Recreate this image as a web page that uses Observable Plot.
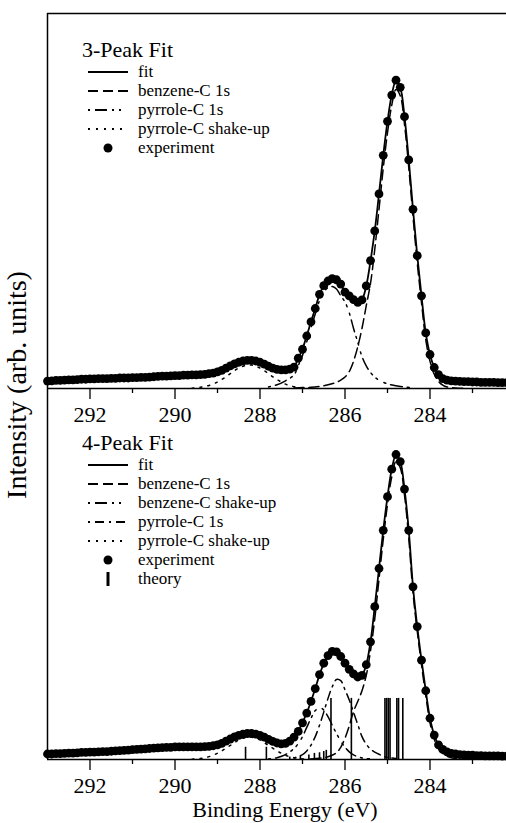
<!DOCTYPE html>
<html><head><meta charset="utf-8">
<script src="https://cdn.jsdelivr.net/npm/d3@7"></script>
<script src="https://cdn.jsdelivr.net/npm/@observablehq/plot@0.6"></script>
<style>
html,body{margin:0;padding:0;background:#fff;}
#wrap{position:relative;width:506px;height:823px;overflow:hidden;font-family:"Liberation Serif","Times New Roman",serif;}
#wrap > svg{position:absolute;left:0;}
</style></head><body><div id="wrap"></div>
<script>
// ---------- data ----------
const energy = [
293.0,292.9,292.8,292.7,292.6,292.5,292.4,292.3,292.2,292.1,
292.0,291.9,291.8,291.7,291.6,291.5,291.4,291.3,291.2,291.1,
291.0,290.9,290.8,290.7,290.6,290.5,290.4,290.3,290.2,290.1,
290.0,289.9,289.8,289.7,289.6,289.5,289.4,289.3,289.2,289.1,
289.0,288.9,288.8,288.7,288.6,288.5,288.4,288.3,288.2,288.1,
288.0,287.9,287.8,287.7,287.6,287.5,287.4,287.3,287.2,287.1,
287.0,286.9,286.8,286.7,286.6,286.5,286.4,286.3,286.2,286.1,
286.0,285.9,285.8,285.7,285.6,285.5,285.4,285.3,285.2,285.1,
285.0,284.9,284.8,284.7,284.6,284.5,284.4,284.3,284.2,284.1,
284.0,283.9,283.8,283.7,283.6,283.5,283.4,283.3,283.2,283.1,
283.0,282.9,282.8,282.7,282.6,282.5,282.4,282.3,282.2];

// 3-peak fit panel
const exp3 = [
0.024,0.025,0.026,0.026,0.027,0.028,0.028,0.029,0.030,0.030,
0.031,0.031,0.032,0.032,0.032,0.033,0.033,0.034,0.034,0.034,
0.035,0.035,0.036,0.036,0.037,0.038,0.039,0.040,0.040,0.041,
0.042,0.042,0.043,0.043,0.044,0.044,0.045,0.046,0.048,0.050,
0.054,0.059,0.066,0.073,0.080,0.085,0.089,0.091,0.091,0.089,
0.085,0.079,0.072,0.066,0.062,0.060,0.060,0.063,0.069,0.098,
0.127,0.170,0.216,0.259,0.305,0.333,0.348,0.356,0.352,0.338,
0.312,0.300,0.288,0.279,0.287,0.332,0.414,0.510,0.630,0.755,
0.865,0.950,0.998,0.975,0.880,0.740,0.580,0.430,0.300,0.180,
0.110,0.068,0.045,0.032,0.027,0.025,0.024,0.023,0.022,0.022,
0.021,0.021,0.020,0.020,0.020,0.020,0.019,0.019,0.019];
const fit3 = [
0.024,0.025,0.026,0.026,0.027,0.028,0.028,0.029,0.030,0.030,
0.031,0.031,0.032,0.032,0.032,0.033,0.033,0.034,0.034,0.034,
0.035,0.035,0.036,0.036,0.037,0.038,0.039,0.040,0.040,0.041,
0.042,0.042,0.043,0.043,0.044,0.044,0.045,0.046,0.048,0.050,
0.054,0.059,0.066,0.073,0.080,0.085,0.089,0.091,0.091,0.089,
0.085,0.079,0.072,0.066,0.062,0.060,0.060,0.063,0.070,0.097,
0.128,0.171,0.216,0.259,0.304,0.333,0.349,0.356,0.352,0.337,
0.312,0.299,0.288,0.280,0.288,0.332,0.413,0.510,0.630,0.755,
0.865,0.950,0.997,0.975,0.880,0.740,0.580,0.430,0.300,0.180,
0.110,0.068,0.045,0.032,0.027,0.025,0.024,0.023,0.022,0.022,
0.021,0.021,0.020,0.020,0.020,0.020,0.019,0.019,0.019];
const benz3E = [287.2,287.0,286.8,286.6,286.4,286.2,286.1,286.0,285.9,285.8,285.7,285.6,285.5,285.4,285.3,285.2,285.1,285.0,284.9,284.8,284.7,284.6,284.5,284.4,284.3,284.2,284.1,284.0,283.9,283.8,283.7,283.6,283.4,283.2];
const benz3 = [0.002,0.003,0.004,0.007,0.012,0.020,0.027,0.037,0.055,0.088,0.135,0.195,0.268,0.340,0.450,0.580,0.713,0.828,0.917,0.968,0.948,0.855,0.716,0.557,0.407,0.278,0.158,0.088,0.046,0.023,0.011,0.005,0.002,0.001];
const pyr3E = [287.8,287.6,287.4,287.2,287.1,287.0,286.9,286.8,286.7,286.6,286.5,286.4,286.3,286.2,286.1,286.0,285.9,285.8,285.7,285.6,285.5,285.4,285.3,285.2,285.0,284.8,284.6,284.4];
const pyr3 = [0.005,0.012,0.025,0.044,0.074,0.107,0.151,0.197,0.241,0.285,0.312,0.326,0.330,0.322,0.300,0.280,0.245,0.195,0.150,0.103,0.073,0.052,0.037,0.027,0.015,0.009,0.005,0.002];
const shk3E = [289.6,289.4,289.2,289.0,288.9,288.8,288.7,288.6,288.5,288.4,288.3,288.2,288.1,288.0,287.9,287.8,287.7,287.6,287.5,287.4,287.2,287.0,286.8];
const shk3 = [0.001,0.004,0.010,0.021,0.029,0.038,0.048,0.058,0.066,0.072,0.076,0.076,0.072,0.066,0.058,0.048,0.038,0.029,0.021,0.014,0.006,0.002,0.0007];

// 4-peak fit panel
const exp4 = [
0.018,0.018,0.019,0.019,0.020,0.021,0.021,0.022,0.023,0.023,
0.024,0.024,0.025,0.026,0.026,0.027,0.028,0.029,0.030,0.031,
0.032,0.033,0.034,0.035,0.036,0.037,0.038,0.039,0.040,0.040,
0.041,0.041,0.041,0.041,0.041,0.041,0.041,0.042,0.043,0.045,
0.048,0.053,0.060,0.067,0.074,0.079,0.083,0.085,0.085,0.083,
0.079,0.073,0.066,0.059,0.054,0.051,0.053,0.060,0.073,0.092,
0.120,0.152,0.190,0.232,0.278,0.315,0.340,0.354,0.352,0.337,
0.315,0.295,0.280,0.270,0.275,0.310,0.385,0.500,0.625,0.750,
0.860,0.950,0.998,0.975,0.885,0.750,0.565,0.435,0.325,0.225,
0.135,0.080,0.048,0.033,0.025,0.020,0.018,0.016,0.015,0.014,
0.014,0.013,0.013,0.012,0.012,0.012,0.012,0.011,0.011];
const fit4 = [
0.018,0.018,0.019,0.019,0.020,0.021,0.021,0.022,0.023,0.023,
0.024,0.024,0.025,0.026,0.026,0.027,0.028,0.029,0.030,0.031,
0.032,0.033,0.034,0.035,0.036,0.037,0.038,0.039,0.040,0.040,
0.041,0.041,0.041,0.041,0.041,0.041,0.041,0.042,0.043,0.045,
0.048,0.053,0.060,0.067,0.074,0.079,0.083,0.085,0.085,0.083,
0.079,0.073,0.066,0.059,0.054,0.052,0.053,0.060,0.073,0.093,
0.121,0.153,0.190,0.232,0.277,0.314,0.340,0.353,0.351,0.337,
0.315,0.295,0.280,0.271,0.276,0.310,0.385,0.500,0.625,0.750,
0.860,0.950,0.997,0.975,0.885,0.750,0.565,0.435,0.325,0.225,
0.135,0.080,0.048,0.033,0.025,0.020,0.018,0.016,0.015,0.014,
0.014,0.013,0.013,0.012,0.012,0.012,0.012,0.011,0.011];
const benz4E = [286.8,286.6,286.4,286.2,286.1,286.0,285.9,285.8,285.7,285.6,285.5,285.4,285.3,285.2,285.1,285.0,284.9,284.8,284.7,284.6,284.5,284.4,284.3,284.2,284.1,284.0,283.9,283.8,283.7,283.6,283.5,283.4,283.2];
const benz4 = [0.002,0.004,0.009,0.022,0.040,0.070,0.110,0.157,0.190,0.225,0.275,0.355,0.460,0.590,0.720,0.835,0.925,0.975,0.955,0.865,0.725,0.545,0.420,0.310,0.210,0.120,0.066,0.035,0.020,0.011,0.006,0.003,0.001];
const shkB4E = [287.8,287.6,287.4,287.2,287.1,287.0,286.9,286.8,286.7,286.6,286.5,286.4,286.3,286.2,286.1,286.0,285.9,285.8,285.6,285.4];
const shkB4 = [0.002,0.006,0.016,0.036,0.052,0.075,0.105,0.135,0.160,0.170,0.162,0.140,0.112,0.085,0.060,0.040,0.025,0.015,0.005,0.002];
const pyr4E = [287.2,287.0,286.9,286.8,286.7,286.6,286.5,286.4,286.3,286.2,286.1,286.0,285.9,285.8,285.7,285.6,285.5,285.4,285.3,285.2,285.0,284.8];
const pyr4 = [0.005,0.016,0.028,0.047,0.075,0.112,0.155,0.200,0.238,0.262,0.258,0.228,0.195,0.155,0.115,0.075,0.050,0.034,0.024,0.017,0.007,0.003];
const shkP4E = [289.6,289.4,289.2,289.0,288.9,288.8,288.7,288.6,288.5,288.4,288.3,288.2,288.1,288.0,287.9,287.8,287.7,287.6,287.5,287.4,287.2,287.0,286.8];
const shkP4 = [0.001,0.0037,0.0094,0.0205,0.028,0.037,0.046,0.055,0.064,0.0695,0.073,0.073,0.0695,0.064,0.055,0.046,0.037,0.028,0.0205,0.0136,0.006,0.002,0.0006];
const theoryE = [288.34,287.85,287.30,287.05,286.85,286.72,286.60,286.50,286.44,286.33,285.85,285.06,285.02,284.98,284.94,284.78,284.74,284.64];
const theoryH = [0.040,0.040,0.008,0.012,0.015,0.020,0.022,0.026,0.030,0.200,0.200,0.200,0.200,0.200,0.200,0.200,0.200,0.200];

const majorTicks = [292, 290, 288, 286, 284];
const minorTicks = [291, 289, 287, 285, 283];
const xDomain = [293, 282.2];
const yMax = 1.214;

const legend3 = ["fit", "benzene-C 1s", "pyrrole-C 1s", "pyrrole-C shake-up", "experiment"];
const legend4 = ["fit", "benzene-C 1s", "benzene-C shake-up", "pyrrole-C 1s", "pyrrole-C shake-up", "experiment", "theory"];

// ---------- styles ----------
const DASH = "10,5", DASHDOTDOT = "2,5,12,5,2,5,2,7", DASHDOT = "2,5,9,5", DOT = "2,6";
const rows = (E, V) => E.map((e, i) => ({e, v: V[i]}));
const lineOpts = (dash) => ({x: "e", y: "v", stroke: "black", strokeWidth: 1.5, strokeDasharray: dash, curve: "catmull-rom"});

function axisMarks() {
  return [
    Plot.ruleX([xDomain[0]], {stroke: "black", strokeWidth: 1.5}),
    Plot.ruleY([0], {stroke: "black", strokeWidth: 1.5}),
    Plot.axisX({ticks: majorTicks, tickSize: 11, tickPadding: 7, fontSize: 22, tickFormat: d => String(d), label: null, strokeWidth: 1.3}),
    Plot.axisX({ticks: minorTicks, tickSize: 5, tickFormat: () => "", label: null, strokeWidth: 1.3})
  ];
}
const common = {
  width: 506, marginLeft: 47, marginRight: 0,
  x: {domain: xDomain, axis: null},
  y: {domain: [0, yMax], axis: null},
  style: {background: "transparent", fontFamily: "'Liberation Serif', serif", color: "black", overflow: "visible"}
};

const topPlot = Plot.plot({
  ...common, height: 430, marginTop: 13, marginBottom: 42,
  marks: [
    ...axisMarks(),
    Plot.ruleY([yMax], {stroke: "black", strokeWidth: 1.5}),
    Plot.line(rows(shk3E, shk3), lineOpts(DOT)),
    Plot.line(rows(pyr3E, pyr3), lineOpts(DASHDOTDOT)),
    Plot.line(rows(benz3E, benz3), lineOpts(DASH)),
    Plot.line(rows(energy, fit3), {...lineOpts(null), strokeWidth: 1.8}),
    Plot.dot(rows(energy, exp3), {x: "e", y: "v", r: 4.4, fill: "black", stroke: "none"})
  ]
});

const botPlot = Plot.plot({
  ...common, height: 435, marginTop: 0, marginBottom: 64,
  marks: [
    ...axisMarks(),
    Plot.ruleX(rows(theoryE, theoryH), {x: "e", y1: 0, y2: "v", stroke: "black", strokeWidth: 1.6}),
    Plot.line(rows(shkP4E, shkP4), lineOpts(DOT)),
    Plot.line(rows(pyr4E, pyr4), lineOpts(DASHDOT)),
    Plot.line(rows(shkB4E, shkB4), lineOpts(DASHDOTDOT)),
    Plot.line(rows(benz4E, benz4), lineOpts(DASH)),
    Plot.line(rows(energy, fit4), {...lineOpts(null), strokeWidth: 1.8}),
    Plot.dot(rows(energy, exp4), {x: "e", y: "v", r: 4.4, fill: "black", stroke: "none"})
  ]
});

const wrap = document.getElementById("wrap");
topPlot.style.top = "0px";
botPlot.style.top = "388px";
wrap.appendChild(botPlot);
wrap.appendChild(topPlot);

// ---------- legends and labels ----------
const ov = d3.create("svg").attr("width", 506).attr("height", 823)
  .style("top", "0px").style("pointer-events", "none")
  .attr("font-family", "'Liberation Serif', serif").attr("fill", "black");

function legend(title, titleY, labels, styles, rowYs) {
  ov.append("text").attr("x", 82).attr("y", titleY).attr("font-size", 22).text(title);
  labels.forEach((lab, i) => {
    const y = rowYs[i], s = styles[i];
    if (s === "dot") {
      ov.append("circle").attr("cx", 108).attr("cy", y).attr("r", 4.5).attr("fill", "black");
    } else if (s === "bar") {
      ov.append("line").attr("x1", 108).attr("x2", 108).attr("y1", y - 7).attr("y2", y + 7)
        .attr("stroke", "black").attr("stroke-width", 3);
    } else {
      ov.append("line").attr("x1", 88).attr("x2", 128).attr("y1", y).attr("y2", y)
        .attr("stroke", "black").attr("stroke-width", 1.8)
        .attr("stroke-dasharray", s === "solid" ? null : s);
    }
    ov.append("text").attr("x", 138).attr("y", y + 5).attr("font-size", 17).text(lab);
  });
}
legend("3-Peak Fit", 57, legend3, ["solid", DASH, DASHDOTDOT, DOT, "dot"], [72, 91, 110, 129, 148]);
legend("4-Peak Fit", 450, legend4, ["solid", DASH, DASHDOTDOT, DASHDOT, DOT, "dot", "bar"], [465, 484, 503, 522, 541, 560, 579]);

ov.append("text").attr("transform", "translate(26,385) rotate(-90)")
  .attr("text-anchor", "middle").attr("font-size", 28).text("Intensity (arb. units)");
ov.append("text").attr("x", 285).attr("y", 817).attr("text-anchor", "middle")
  .attr("font-size", 22).text("Binding Energy (eV)");
wrap.appendChild(ov.node());
</script></body></html>
